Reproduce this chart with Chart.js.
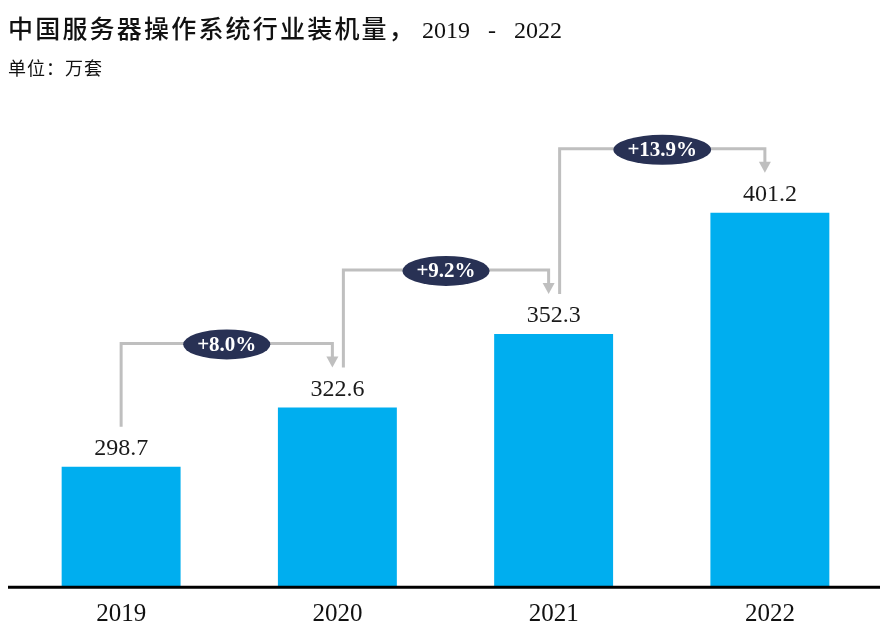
<!DOCTYPE html>
<html>
<head>
<meta charset="utf-8">
<script src="https://cdn.jsdelivr.net/npm/chart.js@4/dist/chart.umd.min.js"></script>
<style>
  html, body { margin: 0; padding: 0; background: #fff; }
  #wrap { width: 881px; height: 626px; position: relative; }
  .title {
    position: absolute; left: 8px; top: 9px;
    font-family: "Liberation Serif", serif;
    font-size: 24px; color: #111; white-space: pre; line-height: 36px;
  }
  .title .cjk {
    font-family: "Noto Sans CJK SC", sans-serif;
    font-size: 25px; font-weight: 500; letter-spacing: 2.2px;
  }
  .subtitle {
    position: absolute; left: 8px; top: 54px;
    font-family: "Noto Sans CJK SC", sans-serif;
    font-size: 18px; color: #111; letter-spacing: 1px;
  }
</style>
</head>
<body>
<div id="wrap">
  <canvas id="installChart"></canvas>
  <div class="title"><span class="cjk">中国服务器操作系统行业装机量，</span> 2019   -   2022</div>
  <div class="subtitle">单位：万套</div>
</div>
<script>
const years = ['2019', '2020', '2021', '2022'];
const installs = [298.7, 322.6, 352.3, 401.2];
const growthLabels = ['+8.0%', '+9.2%', '+13.9%'];

const serif = '"Liberation Serif", "Noto Sans CJK SC", serif';

// value labels above each bar
const valueLabels = {
    id: 'valueLabels',
    afterDatasetsDraw(chart) {
        const ctx = chart.ctx;
        const meta = chart.getDatasetMeta(0);
        ctx.save();
        ctx.font = '24px ' + serif;
        ctx.fillStyle = '#1a1a1a';
        ctx.textAlign = 'center';
        ctx.textBaseline = 'bottom';
        meta.data.forEach((bar, i) => {
            ctx.fillText(installs[i].toFixed(1), bar.x, bar.y - 6);
        });
        ctx.restore();
    }
};

// growth brackets between consecutive bars
const growthArrows = {
    id: 'growthArrows',
    afterDatasetsDraw(chart) {
        const ctx = chart.ctx;
        const x = chart.scales.x;
        const y = chart.scales.y;
        ctx.save();
        growthLabels.forEach((label, i) => {
            const x0 = x.getPixelForValue(i) + (i === 0 ? 0 : 6);
            const x1 = x.getPixelForValue(i + 1) - 5;
            const yStart = y.getPixelForValue(installs[i]) - 40;
            const yEnd = y.getPixelForValue(installs[i + 1]) - 40;
            const yTop = y.getPixelForValue(installs[i + 1]) - 64;

            ctx.strokeStyle = '#bfbfbf';
            ctx.fillStyle = '#bfbfbf';
            ctx.lineWidth = 3;
            ctx.beginPath();
            ctx.moveTo(x0, yStart);
            ctx.lineTo(x0, yTop);
            ctx.lineTo(x1, yTop);
            ctx.lineTo(x1, yEnd - 9);
            ctx.stroke();
            ctx.beginPath();
            ctx.moveTo(x1 - 6, yEnd - 11);
            ctx.lineTo(x1 + 6, yEnd - 11);
            ctx.lineTo(x1, yEnd);
            ctx.closePath();
            ctx.fill();

            const cx = (x0 + x1) / 2;
            ctx.font = 'bold 21px ' + serif;
            const w = ctx.measureText(label).width + 28;
            ctx.beginPath();
            ctx.ellipse(cx, yTop + 1, w / 2, 15, 0, 0, Math.PI * 2);
            ctx.fillStyle = '#283154';
            ctx.fill();
            ctx.fillStyle = '#ffffff';
            ctx.textAlign = 'center';
            ctx.textBaseline = 'middle';
            ctx.fillText(label, cx, yTop + 2);
        });
        ctx.restore();
    }
};

// baseline running nearly the full width of the page
const baseLine = {
    id: 'baseLine',
    afterDraw(chart) {
        const ctx = chart.ctx;
        const yb = chart.scales.y.getPixelForValue(250);
        ctx.save();
        ctx.strokeStyle = '#000';
        ctx.lineWidth = 3;
        ctx.beginPath();
        ctx.moveTo(8, yb);
        ctx.lineTo(880, yb);
        ctx.stroke();
        ctx.restore();
    }
};

new Chart(document.getElementById('installChart'), {
    type: 'bar',
    data: {
        labels: years,
        datasets: [{
            label: '装机量',
            data: installs,
            backgroundColor: '#00aeef',
            categoryPercentage: 1,
            barPercentage: 0.55,
        }]
    },
    options: {
        responsive: true,
        maintainAspectRatio: false,
        animation: false,
        layout: {
            padding: { left: 13, right: 3, top: 92, bottom: -16 }
        },
        plugins: {
            legend: { display: false },
            tooltip: { enabled: false }
        },
        scales: {
            x: {
                grid: { display: false, drawTicks: false },
                border: { display: false },
                ticks: {
                    color: '#111',
                    font: { family: serif, size: 25, lineHeight: 1.15 },
                    padding: 13
                }
            },
            y: {
                display: false,
                min: 250,
                max: 450
            }
        }
    },
    plugins: [valueLabels, growthArrows, baseLine]
});
</script>
</body>
</html>
